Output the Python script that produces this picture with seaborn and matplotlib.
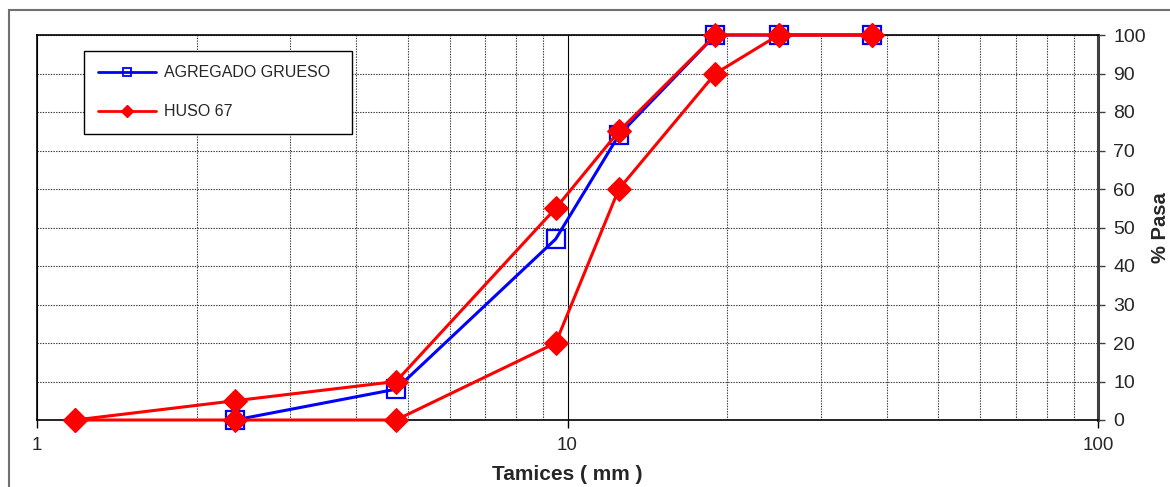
import pandas as pd
import matplotlib.pyplot as plt
import seaborn as sns
from matplotlib.lines import Line2D
from matplotlib.patches import Rectangle
from matplotlib.ticker import FixedLocator, NullFormatter

# sieve openings (mm) and % passing
tamiz_grueso = [2.36, 4.75, 9.5, 12.5, 19.0, 25.0, 37.5]
pasa_grueso = [0, 8, 47, 74, 100, 100, 100]

tamiz_huso_sup = [1.18, 2.36, 4.75, 9.5, 12.5, 19.0, 25.0, 37.5]
pasa_huso_sup = [0, 5, 10, 55, 75, 100, 100, 100]

tamiz_huso_inf = [1.18, 2.36, 4.75, 9.5, 12.5, 19.0, 25.0, 37.5]
pasa_huso_inf = [0, 0, 0, 20, 60, 90, 100, 100]

x_ticks = [1, 10, 100]
y_ticks = list(range(0, 101, 10))

sns.set_style("white")
plt.rcParams['font.family'] = ['Liberation Sans', 'DejaVu Sans']

fig = plt.figure(figsize=(11.7, 4.87), dpi=100)
ax = fig.add_axes([37 / 1170, 1 - 420 / 487, (1098 - 37) / 1170, (420 - 35) / 487])

df_g = pd.DataFrame({'tamiz': tamiz_grueso, 'pasa': pasa_grueso})
df_s = pd.DataFrame({'tamiz': tamiz_huso_sup, 'pasa': pasa_huso_sup})
df_i = pd.DataFrame({'tamiz': tamiz_huso_inf, 'pasa': pasa_huso_inf})

red = '#ff0000'
blue = '#0000ff'
sns.lineplot(data=df_g, x='tamiz', y='pasa', ax=ax, color=blue, lw=2.2,
             marker='s', markersize=13.5, markerfacecolor='none', markeredgecolor=blue,
             markeredgewidth=1.6, sort=False, zorder=2, clip_on=False)
for d in (df_s, df_i):
    sns.lineplot(data=d, x='tamiz', y='pasa', ax=ax, color=red, lw=2.2,
                 marker='D', markersize=12.5, markeredgecolor=red, markerfacecolor=red,
                 sort=False, zorder=3, clip_on=False)

ax.set_xscale('log')
ax.set_xlim(1, 100)
ax.set_ylim(0, 100)
ax.xaxis.set_major_locator(FixedLocator(x_ticks))
ax.set_xticklabels([str(t) for t in x_ticks])
ax.xaxis.set_minor_locator(FixedLocator([2, 3, 4, 5, 6, 7, 8, 9, 20, 30, 40, 50, 60, 70, 80, 90]))
ax.xaxis.set_minor_formatter(NullFormatter())
ax.set_yticks(y_ticks)

ax.yaxis.tick_right()
ax.yaxis.set_label_position('right')
ax.tick_params(axis='y', which='major', direction='out', length=5, width=1, color='#404040',
               labelsize=14, pad=6, right=True, left=False)
ax.tick_params(axis='x', which='major', direction='out', length=6, width=1, color='black',
               labelsize=13.5, pad=6, bottom=True)
ax.tick_params(axis='x', which='minor', length=0)

ax.grid(True, axis='y', which='major', color='#333333', ls=(0, (1.2, 1.2)), lw=0.8)
ax.grid(True, axis='x', which='minor', color='#333333', ls=(0, (1.2, 1.2)), lw=0.8)
ax.grid(True, axis='x', which='major', color='black', ls='-', lw=0.8)
ax.set_axisbelow(True)

for side in ('left', 'top', 'bottom'):
    ax.spines[side].set_color('black')
    ax.spines[side].set_linewidth(1.2)
ax.spines['right'].set_color('#404040')
ax.spines['right'].set_linewidth(2.2)

ax.set_xlabel('Tamices ( mm )', fontsize=15, fontweight='bold', labelpad=8)
ax.set_ylabel('% Pasa', fontsize=14.5, fontweight='bold', labelpad=4)

handles = [
    Line2D([], [], color=blue, lw=2, marker='s', markersize=6, markerfacecolor='none',
           markeredgecolor=blue, markeredgewidth=1.3),
    Line2D([], [], color=red, lw=2, marker='D', markersize=6, markerfacecolor=red,
           markeredgecolor=red),
]
leg = ax.legend(handles, ['AGREGADO GRUESO', 'HUSO 67'], loc='upper left',
                bbox_to_anchor=((84 - 37) / 1061, (420 - 134) / 385, (352 - 84) / 1061, 83 / 385),
                mode='expand', borderaxespad=0, fontsize=11.5, frameon=True, fancybox=False,
                framealpha=1, edgecolor='black', handlelength=3.6, handletextpad=0.5,
                labelspacing=1.5, borderpad=0.9)
leg.get_frame().set_linewidth(1.0)
leg.set_zorder(10)

fig.patches.append(Rectangle((9 / 1170, -0.02), 1.05, 1 - 10 / 487 + 0.02,
                             transform=fig.transFigure, fill=False, edgecolor='#707070',
                             lw=1.5, zorder=-1))

fig.savefig('out.png', dpi=100)
